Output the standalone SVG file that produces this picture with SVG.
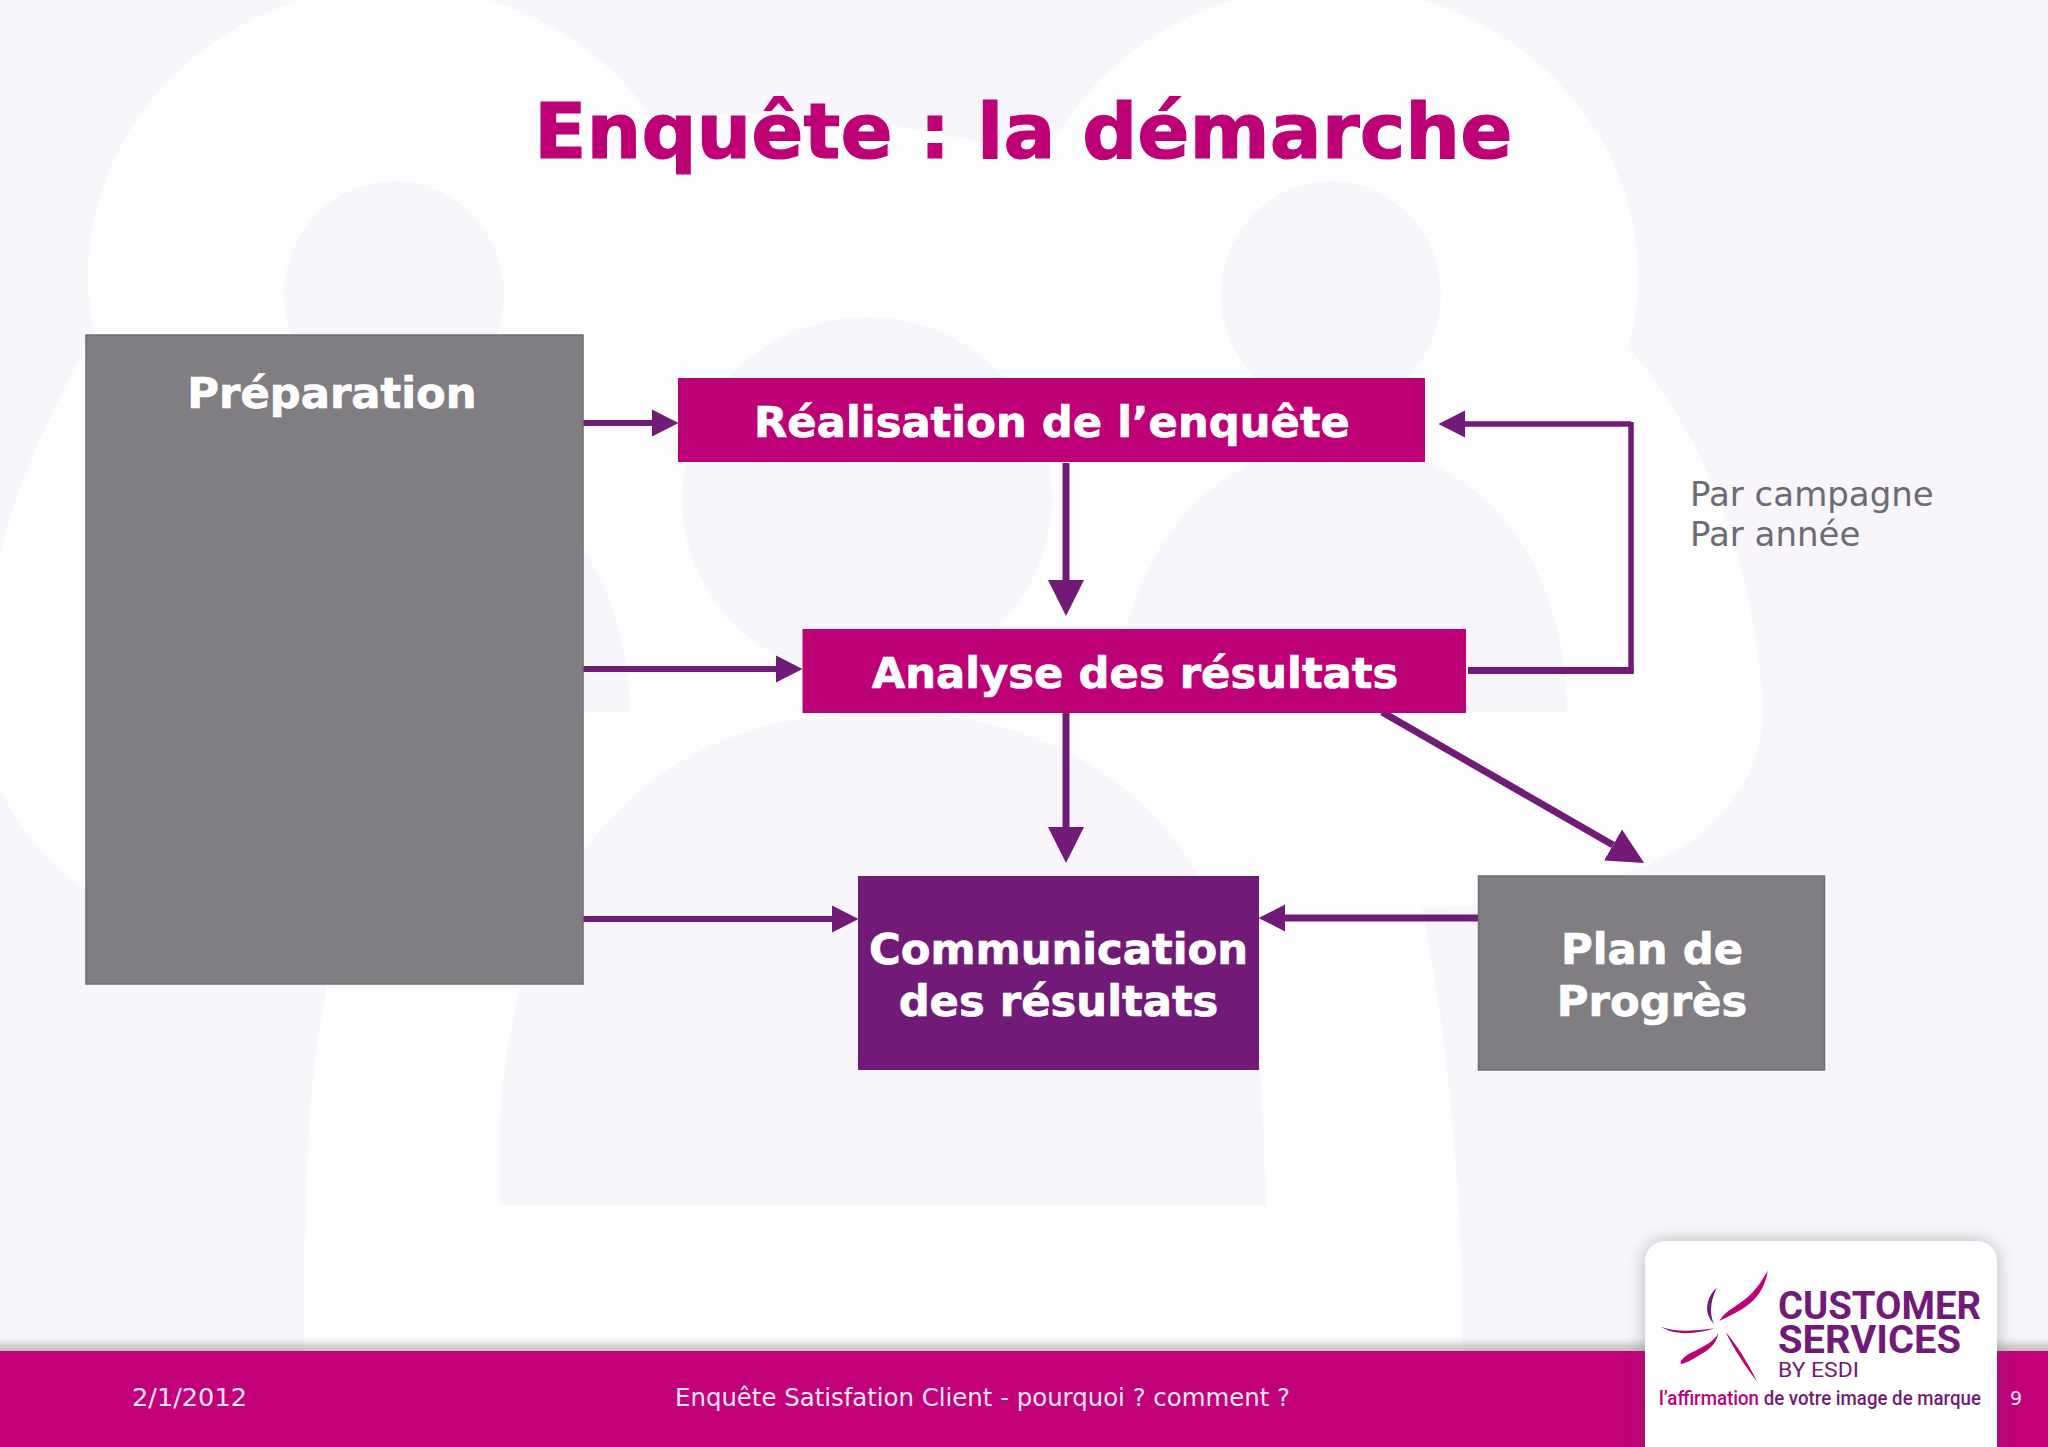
<svg xmlns="http://www.w3.org/2000/svg" width="2048" height="1447" viewBox="0 0 2048 1447">
<style>
.dj{font-family:"DejaVu Sans",Verdana,sans-serif}
.lbl{font-family:"DejaVu Sans",Verdana,sans-serif;font-weight:700;font-size:43.3px;fill:#fff;stroke:#fff;stroke-width:.7;text-anchor:middle}
.foot{font-family:"DejaVu Sans",Verdana,sans-serif;font-size:25.6px;fill:#fbe6f3}
.note{font-family:"DejaVu Sans",Verdana,sans-serif;font-size:34px;fill:#6c6c75}
.wh{fill:#fefdfe}
.lav{fill:#f8f6fa}
.mag{fill:#bd0076}
.pur{fill:#721a78}
.gry{fill:#807e82;stroke:#6e6e70;stroke-width:1.5}
.c{fill:none;stroke:#721a78;stroke-width:6}
.c7{fill:none;stroke:#721a78;stroke-width:7}
.logo{font-family:Roboto,"Liberation Sans",sans-serif}
</style>
<defs>
<marker id="s" markerUnits="userSpaceOnUse" markerWidth="27" markerHeight="28" refX="0" refY="14" orient="auto" viewBox="0 0 27 28"><path d="M0,0.6 L26.5,14 L0,27.4Z" fill="#721a78"/></marker>
<marker id="l" markerUnits="userSpaceOnUse" markerWidth="37" markerHeight="38" refX="0" refY="19" orient="auto" viewBox="0 0 37 38"><path d="M0,1 L36,19 L0,37Z" fill="#721a78"/></marker>
<filter id="sh" x="-20%" y="-20%" width="140%" height="140%"><feGaussianBlur stdDeviation="9"/></filter>
<filter id="sb" x="-2%" y="-50%" width="104%" height="200%"><feGaussianBlur stdDeviation="4"/></filter>
</defs>

<g id="background">
<rect width="2048" height="1447" fill="#f8f6fa"/>
<ellipse class="wh" cx="395" cy="277" rx="307" ry="291"/>
<ellipse class="wh" cx="1328" cy="277" rx="310" ry="291"/>
<path class="wh" d="M643,115 C760,110 900,115 1053,162 L1100,400 L643,500Z"/>
<path class="wh" d="M88,340 C60,400 20,470 0,553 L-20,700 C-20,790 40,860 85,889 C150,930 250,960 340,965 L327,983 C310,1080 304,1150 304,1360 L1463,1360 C1463,1150 1440,1000 1422,908 C1530,905 1640,880 1700,835 C1750,790 1764,750 1762,700 C1755,560 1700,430 1631,350Z"/>
<ellipse class="lav" cx="394" cy="295" rx="110" ry="114"/>
<ellipse class="lav" cx="1331" cy="295" rx="110" ry="114"/>
<ellipse class="lav" cx="867" cy="498" rx="185" ry="181"/>
<path class="lav" d="M165,712 C165,600 230,450 394,450 C534,450 628,560 630,712Z"/>
<path class="lav" d="M1115,712 C1115,600 1180,445 1340,445 C1480,445 1566,560 1567,712Z"/>
<path class="lav" d="M500,1205 L500,1120 C510,930 600,712 880,712 C1100,712 1240,840 1262,1090 L1266,1205Z"/>
</g>

<g id="footer">
<rect x="-10" y="1344" width="2068" height="14" fill="#6b6b70" opacity=".4" filter="url(#sb)"/>
<rect class="mag" x="0" y="1351" width="2048" height="96" style="fill:#c1007a"/>
<text class="foot" x="132" y="1406">2/1/2012</text>
<text class="foot" x="675" y="1406" textLength="615" lengthAdjust="spacingAndGlyphs">Enquête Satisfation Client - pourquoi ? comment ?</text>
<text class="foot" x="2010" y="1405" style="font-size:19px">9</text>
</g>

<text id="title" class="dj" x="534" y="158" font-size="77" font-weight="700" fill="#bd0076" stroke="#bd0076" stroke-width="1.2">Enquête : la démarche</text>

<g id="connectors">
<path class="c" d="M583,423 H652" marker-end="url(#s)"/>
<path class="c" d="M583,669 H776" marker-end="url(#s)"/>
<path class="c" d="M583,919 H832" marker-end="url(#s)"/>
<path class="c7" d="M1066,463 V580" marker-end="url(#l)"/>
<path class="c7" d="M1066,712 V827" marker-end="url(#l)"/>
<path class="c" d="M1478,918 H1285" marker-end="url(#s)" style="stroke-width:7"/>
<path class="c" d="M1631,424 H1465" marker-end="url(#s)" style="stroke-width:5.5"/>
<path class="c" d="M1631,422 V673" style="stroke-width:5.5"/>
<path class="c7" d="M1468,670.5 H1633.6"/>
<path class="c7" d="M1382,712 L1613,845" marker-end="url(#l)"/>
</g>

<g id="node-preparation">
<rect class="gry" x="86" y="335" width="497" height="649"/>
<text class="lbl" x="332" y="408">Préparation</text>
</g>
<g id="node-realisation">
<rect class="mag" x="678" y="378" width="747" height="84"/>
<text class="lbl" x="1052" y="437">Réalisation de l’enquête</text>
</g>
<g id="node-analyse">
<rect class="mag" x="802.5" y="629" width="663.5" height="84"/>
<text class="lbl" x="1135" y="688">Analyse des résultats</text>
</g>
<g id="node-communication">
<rect class="pur" x="858" y="876" width="401" height="194"/>
<text class="lbl" x="1058.5" y="964">Communication</text>
<text class="lbl" x="1058.5" y="1016">des résultats</text>
</g>
<g id="node-plan">
<rect class="gry" x="1478.5" y="876" width="346" height="194"/>
<text class="lbl" x="1652" y="964">Plan de</text>
<text class="lbl" x="1652" y="1016">Progrès</text>
</g>

<g id="note" class="note">
<text x="1690" y="506">Par campagne</text>
<text x="1690" y="546">Par année</text>
</g>

<g id="logo">
<path d="M1645,1261 a20,20 0 0 1 20,-20 h312 a20,20 0 0 1 20,20 V1460 H1645Z" fill="#55505a" opacity=".38" filter="url(#sh)"/>
<path d="M1645,1261 a20,20 0 0 1 20,-20 h312 a20,20 0 0 1 20,20 V1447 H1645Z" fill="#fff"/>
<g transform="translate(1600,1220) scale(.33333)">
<path class="mag" d="M358,303 C375,270 420,255 450,225 C475,200 490,175 503,152 C498,190 480,225 450,250 C420,275 385,290 358,303Z"/>
<path class="pur" d="M350,203 C330,220 318,250 322,275 C325,290 335,305 342,312 C330,285 328,250 350,203Z"/>
<path d="M183,320 C220,345 285,345 345,325 C300,330 240,340 183,320Z" fill="#a01078"/>
<path class="mag" d="M355,338 C345,365 300,385 270,400 C250,412 238,425 243,432 C260,430 290,410 320,392 C345,375 352,355 355,338Z"/>
<path class="mag" d="M377,336 C400,385 440,445 472,486 C445,430 410,375 377,336Z"/>
</g>
<text class="logo" x="1778" y="1319" font-size="39" font-weight="700" fill="#721a78" textLength="203" lengthAdjust="spacingAndGlyphs">CUSTOMER</text>
<text class="logo" x="1778" y="1353" font-size="39" font-weight="700" fill="#721a78" textLength="183" lengthAdjust="spacingAndGlyphs">SERVICES</text>
<text class="logo" x="1778" y="1377" font-size="21" fill="#721a78" textLength="81" lengthAdjust="spacingAndGlyphs">BY ESDI</text>
<text class="logo" x="1659" y="1405" font-size="19.5" font-weight="500" fill="#721a78" textLength="322" lengthAdjust="spacingAndGlyphs"><tspan fill="#bd0076">l’affirmation</tspan> de votre image de marque</text>
</g>
</svg>
